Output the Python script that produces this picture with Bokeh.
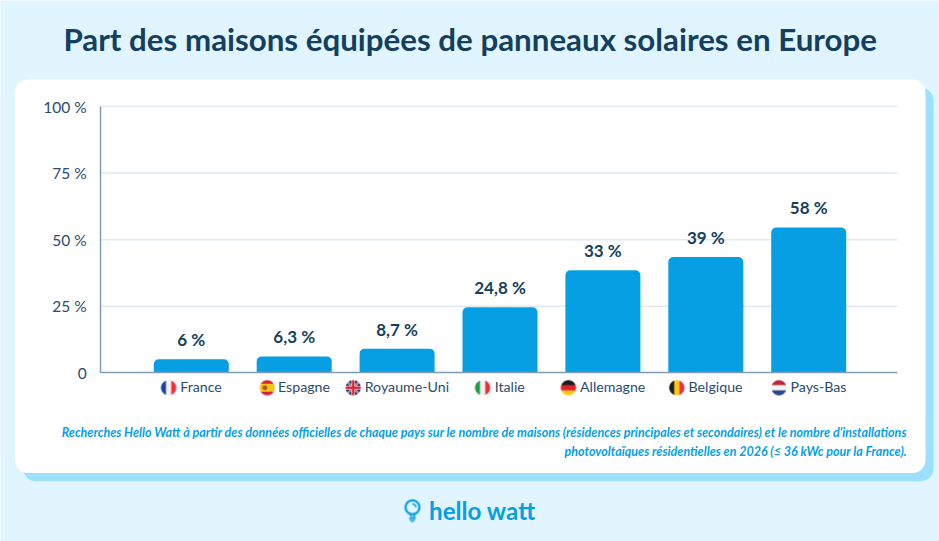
import numpy as np
from bokeh.core.properties import value
from bokeh.embed import file_html
from bokeh.models import BoxAnnotation, ColumnDataSource, FixedTicker, Label, LinearAxis, Range1d
from bokeh.plotting import figure
from bokeh.resources import INLINE

countries = ["France", "Espagne", "Royaume-Uni", "Italie", "Allemagne", "Belgique", "Pays-Bas"]
bar_heights = [5.1, 6.2, 9.1, 24.6, 38.5, 43.5, 54.6]
bar_labels = ["6 %", "6,3 %", "8,7 %", "24,8 %", "33 %", "39 %", "58 %"]
y_ticks = [0, 25, 50, 75, 100]
y_tick_labels = ["0", "25 %", "50 %", "75 %", "100 %"]
title_text = "Part des maisons équipées de panneaux solaires en Europe"
note_lines = [
    "Recherches Hello Watt à partir des données officielles de chaque pays sur le nombre de maisons (résidences principales et secondaires) et le nombre d'installations",
    "photovoltaïques résidentielles en 2026 (≤ 36 kWc pour la France).",
]
brand = "hello watt"

BG, SHADOW, CARD = "#e0f5ff", "#9be0ff", "#ffffff"
NAVY, BLUE, GRID, AXIS = "#153f5e", "#069fe3", "#dfeaf3", "#7f9db5"
TEXT = "#2a4d6b"
FONT = "Lato"
W, H = 939, 541

# pixel -> data helpers
X0, PITCH = 190.8, 102.9
Y0, YPX = 372.4, 2.664
def dx(px): return (px - X0) / PITCH
def dy(py): return (Y0 - py) / YPX

p = figure(width=W, height=H, output_backend="svg", toolbar_location=None,
           x_range=Range1d(dx(0), dx(W)), y_range=Range1d(dy(H), dy(0)),
           x_axis_type=None, y_axis_type=None,
           min_border=0, outline_line_color=None,
           background_fill_color=BG, border_fill_color=BG)

def box(l, r, t, b, color):
    p.add_layout(BoxAnnotation(left=l, right=r, top=t, bottom=b,
                               left_units="canvas", right_units="canvas",
                               top_units="canvas", bottom_units="canvas",
                               fill_color=color, fill_alpha=1, line_color=None,
                               border_radius=13, level="image"))
box(22.5, 933, 87, 480.7, SHADOW)
box(14.5, 925, 79, 472.5, CARD)

# axes
xs = list(range(len(countries)))
label_shift = 0.095
x_ticks = [i + label_shift for i in xs]
xaxis = LinearAxis(fixed_location=0, ticker=FixedTicker(ticks=x_ticks),
                   major_label_overrides=dict(zip(x_ticks, countries)),
                   bounds=(dx(100.2), dx(897)),
                   axis_line_color=AXIS, axis_line_width=1.5,
                   major_tick_line_color=None, minor_tick_line_color=None,
                   major_label_standoff=-1,
                   major_label_text_font=FONT, major_label_text_font_size="14.2px",
                   major_label_text_color=TEXT)
p.add_layout(xaxis, "below")
yaxis = LinearAxis(fixed_location=dx(100.2), ticker=FixedTicker(ticks=y_ticks),
                   major_label_overrides=dict(zip(y_ticks, y_tick_labels)),
                   bounds=(0, 100),
                   axis_line_color=AXIS, axis_line_width=1.5,
                   major_tick_line_color=None, minor_tick_line_color=None,
                   major_label_standoff=8,
                   major_label_text_font=FONT, major_label_text_font_size="15.5px",
                   major_label_text_color=TEXT)
p.add_layout(yaxis, "left")

# horizontal grid lines
p.segment(x0=dx(100.2), x1=dx(897), y0=y_ticks[1:], y1=y_ticks[1:],
          line_color=GRID, line_width=1.5)

src = ColumnDataSource(dict(x=xs, top=bar_heights, label=bar_labels))
p.vbar(x="x", top="top", bottom=0, width=75 / PITCH, source=src,
       fill_color=BLUE, line_color=None, border_radius=(5, 5, 0, 0))
p.text(x="x", y="top", text="label", source=src, y_offset=-19.6,
       text_align="center", text_baseline="middle",
       text_font=value(FONT), text_font_style="bold", text_font_size="17px", text_color=NAVY)

def rgb(h):
    return np.array([int(h[i:i + 2], 16) for i in (1, 3, 5)], dtype=float)

def to_rgba(img, alpha, ss):
    # box-average a supersampled RGB/alpha pair down to native pixels
    n = img.shape[0] // ss
    a = alpha.reshape(n, ss, n, ss).mean(axis=(1, 3))
    c = (img * alpha[..., None]).reshape(n, ss, n, ss, 3).mean(axis=(1, 3))
    c = c / np.maximum(a[..., None], 1e-6)
    out = np.zeros((n, n), dtype=np.uint32)
    view = out.view(dtype=np.uint8).reshape((n, n, 4))
    view[..., :3] = np.clip(c, 0, 255).astype(np.uint8)
    view[..., 3] = (a * 255).astype(np.uint8)
    return out

# round flags
SS, N = 8, 16
yy, xx = np.mgrid[0:N * SS, 0:N * SS]
u = (xx + 0.5) / (N * SS) * 2 - 1
v = (yy + 0.5) / (N * SS) * 2 - 1   # image rows run bottom-up: v>0 = top of the flag
disc = (u * u + v * v <= (15.2 / 16) ** 2).astype(float)

def flag(paint):
    img = np.zeros((N * SS, N * SS, 3)) + 255.0
    paint(img)
    return to_rgba(img, disc, SS)

def vstripes(*cols):
    def f(img):
        for k, c in enumerate(cols):
            img[(u + 1) / 2 * len(cols) >= k] = rgb(c)
    return f

def hstripes(*cols):
    def f(img):
        for k, c in enumerate(cols):
            img[(1 - v) / 2 * len(cols) >= k] = rgb(c)
    return f

def spain(img):
    img[:] = rgb("#d8232f")
    img[np.abs(v) < 0.5] = rgb("#f7c61d")
    img[((u + 0.3) ** 2 + v ** 2 < 0.09)] = rgb("#b5502a")

def uk(img):
    img[:] = rgb("#14306f")
    d1, d2 = np.abs(u - v), np.abs(u + v)
    img[(d1 < 0.17) | (d2 < 0.17)] = rgb("#ffffff")
    img[(d1 < 0.07) | (d2 < 0.07)] = rgb("#d8232f")
    img[(np.abs(u) < 0.24) | (np.abs(v) < 0.24)] = rgb("#ffffff")
    img[(np.abs(u) < 0.15) | (np.abs(v) < 0.15)] = rgb("#d8232f")

flag_paint = [vstripes("#1f3f9f", "#f4f4f4", "#ee2f3c"), spain, uk,
              vstripes("#1f9a4d", "#f4f4f4", "#e2303c"),
              hstripes("#1c1c1c", "#e2202c", "#fbc817"),
              vstripes("#1c1c1c", "#fbc817", "#ee2f3c"),
              hstripes("#c0283a", "#f4f4f4", "#26468f")]
flag_offsets_px = [-22.7, -27, -43.9, -17.4, -34.5, -29, -29.8]
for i, paint, off in zip(xs, flag_paint, flag_offsets_px):
    p.image_rgba(image=[flag(paint)], x=i + off / PITCH, y=dy(387.3), dw=N, dh=N,
                 dw_units="screen", dh_units="screen", anchor="center")

def text(txt, px, py, size, color, align="left", style="normal"):
    p.add_layout(Label(x=px, y=py, x_units="canvas", y_units="canvas", text=txt,
                       text_font=FONT, text_font_size=size, text_color=color,
                       text_font_style=style, text_align=align, text_baseline="middle"))

text(title_text, 469.7, 38.3, "31.3px", NAVY, "center", "bold")
text(note_lines[0], 906.5, 431.6, "12.52px", BLUE, "right", "bold italic")
text(note_lines[1], 906.5, 451, "12.52px", BLUE, "right", "bold italic")
text(brand, 428.5, 510.2, "24.2px", BLUE, "left", "bold")

# bulb logo
M = 24
yy, xx = np.mgrid[0:M * SS, 0:M * SS]
gx = (xx + 0.5) / SS - 12      # px around the icon centre
gy = 12 - (yy + 0.5) / SS      # up = positive
r = np.hypot(gx, gy - 3.2)
ring = (r < 8) & (r > 5.8)
neck = (gy < -2.5) & (gy > -6.6) & (np.abs(gx) < 1.9 + (gy + 6.6) * 0.55) & (np.abs(gx) > 0.2 + (gy + 6.6) * 0.55)
coil = np.zeros_like(ring)
for cy, hw in ((-7.4, 3.4), (-9.2, 3.0), (-10.9, 1.5)):
    coil |= (np.abs(gy - cy - gx * 0.12) < 0.65) & (np.abs(gx) < hw)
inner = (np.abs(r - 3.3) < 0.8) & (gx > 0) & (gy > 3.2)
icon_a = (ring | neck | coil | inner).astype(float)
icon_c = np.zeros((M * SS, M * SS, 3)) + rgb(BLUE)
p.image_rgba(image=[to_rgba(icon_c, icon_a[::-1], SS)], x=dx(412), y=dy(510), dw=M, dh=M,
             dw_units="screen", dh_units="screen", anchor="center")

open("out.html", "w").write(file_html(p, INLINE))
